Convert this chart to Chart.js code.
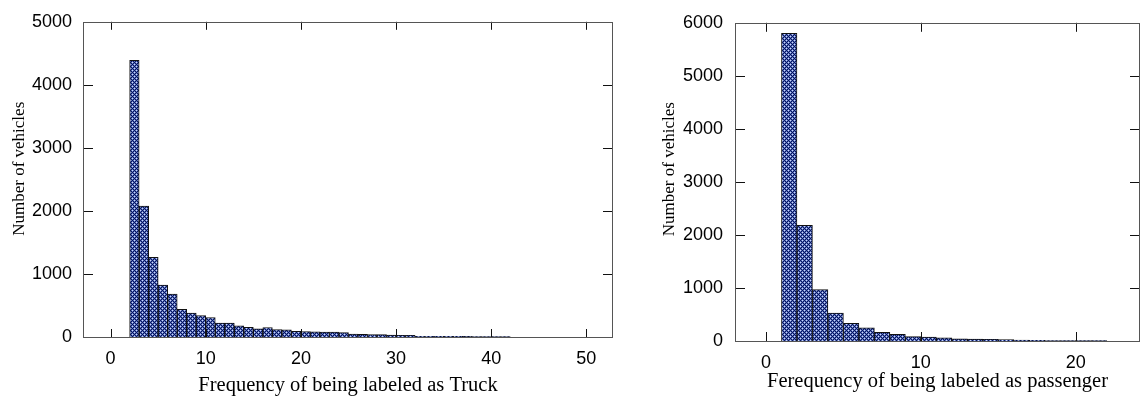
<!DOCTYPE html>
<html>
<head>
<meta charset="utf-8">
<script src="https://cdn.jsdelivr.net/npm/chart.js@4/dist/chart.umd.min.js"></script>
<style>
  html, body { margin: 0; padding: 0; background: #ffffff; }
  body { width: 1141px; height: 399px; position: relative; overflow: hidden; }
  canvas { position: absolute; top: 0; }
  #c1 { left: 0; }
  #c2 { left: 640px; }
</style>
</head>
<body>
<canvas id="c1" width="630" height="399"></canvas>
<canvas id="c2" width="501" height="399"></canvas>
<script>
// ---------- Data ----------
// Left histogram: frequency of being labeled as Truck (bin centres)
const truckBins = [2.5, 3.5, 4.5, 5.5, 6.5, 7.5, 8.5, 9.5, 10.5, 11.5,
                   12.5, 13.5, 14.5, 15.5, 16.5, 17.5, 18.5, 19.5, 20.5, 21.5,
                   22.5, 23.5, 24.5, 25.5, 26.5, 27.5, 28.5, 29.5, 30.5, 31.5,
                   32.5, 33.5, 34.5, 35.5, 36.5, 37.5, 38.5, 39.5, 40.5, 41.5];
const truckCounts = [4390, 2075, 1265, 822, 680, 440, 378, 340, 310, 220,
                     220, 178, 152, 130, 150, 116, 112, 90, 85, 82,
                     80, 78, 72, 45, 43, 40, 38, 30, 28, 26,
                     12, 12, 11, 10, 10, 9, 8, 8, 7, 6];
const truckXTicks = [0, 10, 20, 30, 40, 50];
const truckYTicks = [0, 1000, 2000, 3000, 4000, 5000];

// Right histogram: frequency of being labeled as passenger (bin centres)
const passBins = [1.5, 2.5, 3.5, 4.5, 5.5, 6.5, 7.5, 8.5, 9.5, 10.5,
                  11.5, 12.5, 13.5, 14.5, 15.5, 16.5, 17.5, 18.5, 19.5, 20.5, 21.5];
const passCounts = [5800, 2180, 970, 525, 333, 250, 162, 125, 82, 75,
                    62, 42, 36, 30, 26, 15, 12, 10, 8, 8, 6];
const passXTicks = [0, 10, 20];
const passYTicks = [0, 1000, 2000, 3000, 4000, 5000, 6000];

// ---------- Styling helpers ----------
function makePattern() {
  const c = document.createElement('canvas');
  c.width = 4; c.height = 4;
  const g = c.getContext('2d');
  const N = '#0a1656', M = '#5870c4', W = '#cdd8f6';
  const tile = [
    [N, M, W, M],
    [M, N, M, N],
    [W, M, N, M],
    [M, N, M, N]
  ];
  for (let y = 0; y < 4; y++) for (let x = 0; x < 4; x++) {
    g.fillStyle = tile[y][x];
    g.fillRect(x, y, 1, 1);
  }
  return g.createPattern(c, 'repeat');
}

const frameTicks = {
  id: 'frameTicks',
  afterDatasetsDraw(chart, args, opts) {
    const { ctx, chartArea: a, scales } = chart;
    ctx.save();
    ctx.strokeStyle = '#111';
    ctx.lineWidth = 1;
    scales.x.ticks.forEach(t => {
      const px = Math.round(scales.x.getPixelForValue(t.value)) + 0.5;
      ctx.beginPath();
      ctx.moveTo(px, a.bottom); ctx.lineTo(px, a.bottom - opts.xLen);
      ctx.moveTo(px, a.top); ctx.lineTo(px, a.top + opts.xLen);
      ctx.stroke();
    });
    scales.y.ticks.forEach(t => {
      const py = Math.round(scales.y.getPixelForValue(t.value)) + 0.5;
      ctx.beginPath();
      ctx.moveTo(a.left, py); ctx.lineTo(a.left + opts.yLen, py);
      ctx.moveTo(a.right, py); ctx.lineTo(a.right - opts.yLen, py);
      ctx.stroke();
    });
    ctx.strokeStyle = '#555';
    ctx.strokeRect(Math.round(a.left) + 0.5, Math.round(a.top) + 0.5,
                   Math.round(a.right - a.left) - 1, Math.round(a.bottom - a.top));
    ctx.restore();
  }
};

function buildChart(canvasId, bins, counts, xTicks, yTicks, cfg) {
  const pattern = makePattern();
  return new Chart(document.getElementById(canvasId), {
    type: 'bar',
    data: {
      datasets: [{
        data: bins.map((b, i) => ({ x: b, y: counts[i] })),
        backgroundColor: pattern,
        borderColor: '#111111',
        borderWidth: 1,
        borderSkipped: 'start',
        barPercentage: 1.0,
        categoryPercentage: 1.0
      }]
    },
    options: {
      responsive: false,
      animation: false,
      events: [],
      layout: { padding: cfg.padding },
      plugins: {
        legend: { display: false },
        tooltip: { enabled: false },
        frameTicks: { xLen: cfg.xLen, yLen: cfg.yLen }
      },
      scales: {
        x: {
          type: 'linear',
          offset: false,
          min: cfg.xMin, max: cfg.xMax,
          afterBuildTicks: s => { s.ticks = xTicks.map(v => ({ value: v })); },
          afterFit: s => { s.height = cfg.xHeight; },
          grid: { display: false, drawTicks: false },
          border: { display: false },
          ticks: {
            color: '#000',
            padding: cfg.xTickPad,
            maxRotation: 0,
            callback: v => String(v),
            font: { family: "'Liberation Sans', Arial, sans-serif", size: 18 }
          },
          title: {
            display: true,
            text: cfg.xTitle,
            color: '#000',
            padding: { top: 0, bottom: cfg.xTitlePad },
            font: { family: "'Liberation Serif', 'Times New Roman', serif", size: 20.5 }
          }
        },
        y: {
          type: 'linear',
          min: 0, max: cfg.yMax,
          afterBuildTicks: s => { s.ticks = yTicks.map(v => ({ value: v })); },
          afterFit: s => { s.width = cfg.yWidth; },
          grid: { display: false, drawTicks: false },
          border: { display: false },
          ticks: {
            color: '#000',
            padding: cfg.yTickPad,
            callback: v => String(v),
            font: { family: "'Liberation Sans', Arial, sans-serif", size: 18 }
          },
          title: {
            display: true,
            text: cfg.yTitle,
            color: '#000',
            padding: { top: cfg.yTitlePad, bottom: 0 },
            font: { family: "'Liberation Serif', 'Times New Roman', serif", size: 17 }
          }
        }
      }
    },
    plugins: [frameTicks]
  });
}

buildChart('c1', truckBins, truckCounts, truckXTicks, truckYTicks, {
  padding: { left: 0, top: 17, right: 17, bottom: 0 },
  xMin: -2.9, xMax: 52.8, yMax: 5000,
  xHeight: 62, yWidth: 83,
  xTickPad: 11, yTickPad: 11,
  xTitlePad: 1, yTitlePad: 9,
  xLen: 8, yLen: 10,
  xTitle: 'Frequency of being labeled as Truck',
  yTitle: '     Number of vehicles'
});

buildChart('c2', passBins, passCounts, passXTicks, passYTicks, {
  padding: { left: 0, top: 17, right: 1, bottom: 0 },
  xMin: -2, xMax: 24.15, yMax: 6000,
  xHeight: 58, yWidth: 95,
  xTickPad: 11, yTickPad: 12,
  xTitlePad: 5, yTitlePad: 19,
  xLen: 9, yLen: 10,
  xTitle: 'Ferequency of being labeled as passenger',
  yTitle: '      Number of vehicles'
});
</script>
</body>
</html>
